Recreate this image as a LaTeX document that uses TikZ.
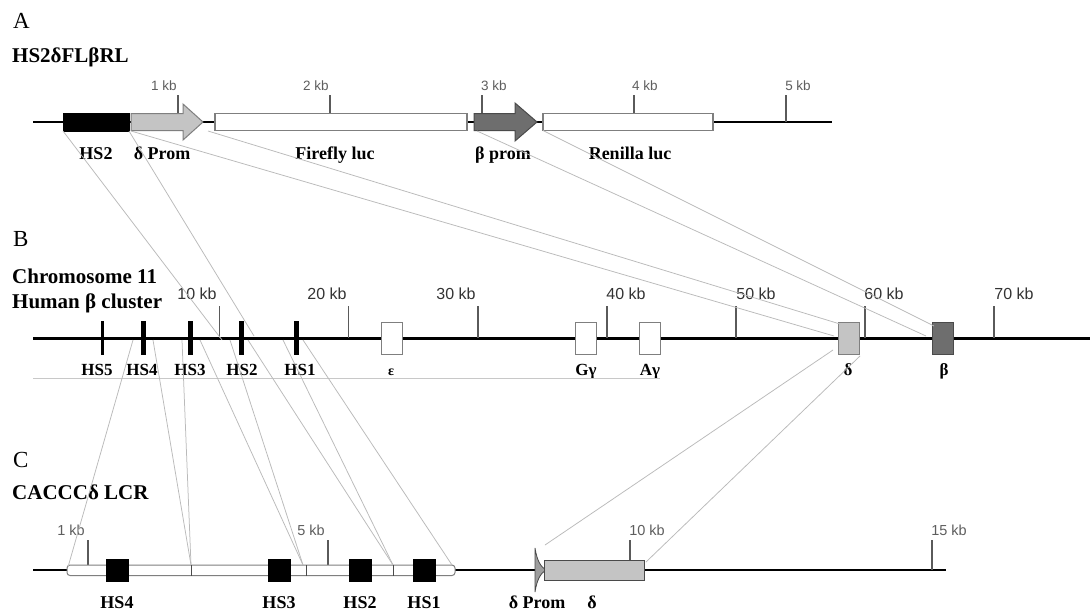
\documentclass[tikz,border=0pt]{standalone}
\usepackage{fontspec}
\setmainfont{Liberation Serif}
\newfontfamily\sansf{Liberation Sans}
\definecolor{connc}{HTML}{BABABA}
\definecolor{tickc}{HTML}{5A5A5A}
\definecolor{tickta}{HTML}{5E5E5E}
\definecolor{ticktb}{HTML}{333333}
\definecolor{lgray}{HTML}{C4C4C4}
\definecolor{dgray}{HTML}{6E6E6E}
\definecolor{edgec}{HTML}{7F7F7F}
\definecolor{edged}{HTML}{4A4A4A}
\begin{document}
\begin{tikzpicture}[x=1pt,y=-1pt,
  backbone/.style={line width=2.6pt,black},
  tickln/.style={line width=1.2pt,tickc},
  conn/.style={line width=0.75pt,connc},
  alab/.style={font=\fontsize{18}{18}\selectfont\bfseries,anchor=base,inner sep=0pt},
  blab/.style={font=\fontsize{17}{17}\selectfont\bfseries,anchor=base,inner sep=0pt},
  head/.style={font=\fontsize{21}{21}\selectfont\bfseries,anchor=base west,inner sep=0pt},
  panel/.style={font=\fontsize{23}{23}\selectfont,anchor=base west,inner sep=0pt},
  atick/.style={font=\sansf\fontsize{13.5}{13.5}\selectfont,text=tickta,anchor=base,inner sep=0pt},
  btick/.style={font=\sansf\fontsize{16}{16}\selectfont,text=ticktb,anchor=base,inner sep=0pt},
  ctick/.style={font=\sansf\fontsize{14.5}{14.5}\selectfont,text=tickta,anchor=base,inner sep=0pt},
  gbox/.style={inner sep=0pt,outer sep=0pt,line width=1.1pt},
  whitebox/.style={gbox,draw=edgec,fill=white},
  hsbar/.style={inner sep=0pt,outer sep=0pt,fill=black,minimum width=5pt,minimum height=34pt},
  blk/.style={inner sep=0pt,outer sep=0pt,fill=black,draw=black,line width=0.6pt,minimum width=22pt,minimum height=22pt},
]
\useasboundingbox (0,0) rectangle (1090,611);
\fill[white] (0,0) rectangle (1090,611);

% ---------- named connector end points ----------
\coordinate (aDl) at (131,131);
\coordinate (aDr) at (208,131);
\coordinate (aBl) at (477,131);
\coordinate (bHS2a) at (222,340);
\coordinate (bHS2b) at (254,336);
\coordinate (bDa) at (834,336);
\coordinate (bDb) at (840,324);
\coordinate (bBa) at (926,336);
\coordinate (bBb) at (934,326);
\coordinate (b4l) at (133,340);
\coordinate (b4r) at (153,340);
\coordinate (b3l) at (182,340);
\coordinate (b3r) at (200,340);
\coordinate (b2l) at (230,340);
\coordinate (b2r) at (248,340);
\coordinate (b1l) at (283,340);
\coordinate (b1r) at (303,340);
\coordinate (bDc) at (833,350);
\coordinate (bDd) at (860,356);
\coordinate (c0) at (68,567);
\coordinate (c1) at (191,565);
\coordinate (c2) at (303,565);
\coordinate (c3) at (393,565);
\coordinate (c4) at (452,565);
\coordinate (cDp) at (545,545);
\coordinate (cDe) at (646,562);

% ================= Panel A =================
\node[panel] (pA) at (13,28) {A};
\node[head] (hA) at (12,62) {HS2δFLβRL};
\draw[backbone] (33,122) -- (832,122);
\foreach \x in {178,330,482,634,786} \draw[tickln] (\x,95) -- (\x,122);
\node[atick] (ta1) at (164,90) {1 kb};
\node[atick] (ta2) at (316,90) {2 kb};
\node[atick] (ta3) at (494,90) {3 kb};
\node[atick] (ta4) at (645,90) {4 kb};
\node[atick] (ta5) at (798,90) {5 kb};
\node[gbox,fill=black,draw=black,line width=0.6pt,minimum width=66pt,minimum height=18pt] (aHS2) at (96,122) {};
\draw[fill=lgray,draw=edgec,line width=1pt] (131,113.5) -- (183,113.5) -- (183,104) -- (203,122) -- (183,140) -- (183,130.5) -- (131,130.5) -- cycle;
\node[whitebox,minimum width=252pt,minimum height=17pt] (aFF) at (341,122) {};
\draw[fill=dgray,draw=edged,line width=1pt] (474,113.5) -- (515,113.5) -- (515,103) -- (537,122) -- (515,141) -- (515,130.5) -- (474,130.5) -- cycle;
\node[whitebox,minimum width=170pt,minimum height=17pt] (aRL) at (628,122) {};
\node[alab] (laHS2) at (96,159) {HS2};
\node[alab] (laD) at (162,159) {δ Prom};
\node[alab] (laFF) at (335,159) {Firefly luc};
\node[alab] (laB) at (503,159) {β prom};
\node[alab] (laRL) at (630,159) {Renilla luc};

% ================= Panel B =================
\node[panel] (pB) at (13,246) {B};
\node[head] (hB1) at (12,283) {Chromosome 11};
\node[head] (hB2) at (12,308) {Human β cluster};
\draw[backbone,line width=3pt] (33,338) -- (1090,338);
\foreach \x in {219.5,348.5,478,607,736,865,994} \draw[tickln] (\x,306) -- (\x,338);
\node[btick] (tb1) at (197,299) {10 kb};
\node[btick] (tb2) at (327,299) {20 kb};
\node[btick] (tb3) at (456,299) {30 kb};
\node[btick] (tb4) at (626,299) {40 kb};
\node[btick] (tb5) at (756,299) {50 kb};
\node[btick] (tb6) at (884,299) {60 kb};
\node[btick] (tb7) at (1014,299) {70 kb};
\draw[line width=2.2pt] (102.5,321) -- (102.5,355);
\node[hsbar] (bHS4) at (143,338) {};
\node[hsbar] (bHS3) at (190.5,338) {};
\node[hsbar] (bHS2) at (241,338) {};
\node[hsbar] (bHS1) at (296,338) {};
\node[whitebox,line width=1pt,minimum width=21pt,minimum height=32pt] (bE) at (391.5,338) {};
\node[whitebox,line width=1pt,minimum width=21pt,minimum height=32pt] (bGg) at (586,338) {};
\node[whitebox,line width=1pt,minimum width=21pt,minimum height=32pt] (bAg) at (650,338) {};
\node[gbox,line width=1pt,draw=edgec,fill=lgray,minimum width=21pt,minimum height=32pt] (bD) at (848.5,338) {};
\node[gbox,line width=1pt,draw=edged,fill=dgray,minimum width=21pt,minimum height=32pt] (bB) at (943,338) {};
\node[blab] (lbHS5) at (97,375) {HS5};
\node[blab] (lbHS4) at (142,375) {HS4};
\node[blab] (lbHS3) at (190,375) {HS3};
\node[blab] (lbHS2) at (242,375) {HS2};
\node[blab] (lbHS1) at (300,375) {HS1};
\node[blab,font=\fontsize{14}{14}\selectfont\bfseries] (lbE) at (391,375) {ε};
\node[blab] (lbGg) at (586,375) {Gγ};
\node[blab] (lbAg) at (650,375) {Aγ};
\node[blab] (lbD) at (848,375) {δ};
\node[blab] (lbB) at (944,375) {β};
\draw[line width=0.8pt,color=connc!80] (33,378) -- (660,378);

% ================= Panel C =================
\node[panel] (pC) at (13,467) {C};
\node[head] (hC) at (12,499) {CACCCδ LCR};
\draw[backbone] (33,570) -- (946,570);
\foreach \x in {88,328,630,932} \draw[tickln] (\x,540) -- (\x,570);
\node[ctick] (tc1) at (71,535) {1 kb};
\node[ctick] (tc2) at (311,535) {5 kb};
\node[ctick] (tc3) at (647,535) {10 kb};
\node[ctick] (tc4) at (949,535) {15 kb};
\draw[fill=white,draw=edgec,line width=1pt,rounded corners=3pt] (67,565) rectangle (455,575.5);
\foreach \x in {191,306,393} \draw[line width=1pt,edged] (\x,565) -- (\x,575.5);
\node[blk] (cHS4) at (117,570) {};
\node[blk] (cHS3) at (279,570) {};
\node[blk] (cHS2) at (360,570) {};
\node[blk] (cHS1) at (424,570) {};
\draw[fill=lgray!80!black,draw=edged,line width=0.8pt] (535,548) .. controls (537,561) and (541,567) .. (546,570) .. controls (541,573) and (537,579) .. (535,592) -- cycle;
\node[gbox,line width=1pt,draw=edged,fill=lgray,minimum width=100pt,minimum height=20pt] (cD) at (594,570) {};
\node[alab] (lcHS4) at (117,608) {HS4};
\node[alab] (lcHS3) at (279,608) {HS3};
\node[alab] (lcHS2) at (360,608) {HS2};
\node[alab] (lcHS1) at (424,608) {HS1};
\node[alab] (lcDP) at (537,608) {δ Prom};
\node[alab] (lcD) at (592,608) {δ};

% ================= connectors =================
\draw[conn] (aHS2.south west) -- (bHS2a);
\draw[conn] (aHS2.south east) -- (bHS2b);
\draw[conn] (aDl) -- (bDa);
\draw[conn] (aDr) -- (bDb);
\draw[conn] (aBl) -- (bBa);
\draw[conn] (aRL.south west) -- (bBb);
\draw[conn] (b4l) -- (c0);
\draw[conn] (b4r) -- (c1);
\draw[conn] (b3l) -- (c1);
\draw[conn] (b3r) -- (c2);
\draw[conn] (b2l) -- (c2);
\draw[conn] (b2r) -- (c3);
\draw[conn] (b1l) -- (c3);
\draw[conn] (b1r) -- (c4);
\draw[conn] (bDc) -- (cDp);
\draw[conn] (bDd) -- (cDe);
\end{tikzpicture}
\end{document}
